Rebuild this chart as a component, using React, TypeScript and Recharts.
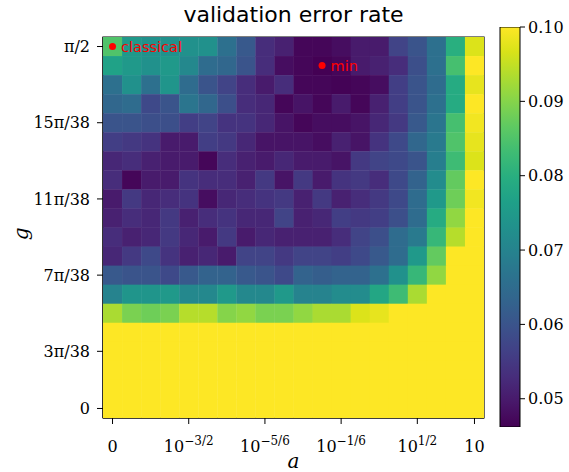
import React from 'react';
import {
  ScatterChart, Scatter, XAxis, YAxis, ReferenceArea, LabelList,
  BarChart, Bar,
} from 'recharts';

// x ticks: column index -> label (base, exponent)
const A_TICKS = [0, 4, 8, 12, 16, 19];
const A_TICK_LABELS = [
  { base: '0', exp: '' },
  { base: '10', exp: '\u22123/2' },
  { base: '10', exp: '\u22125/6' },
  { base: '10', exp: '\u22121/6' },
  { base: '10', exp: '1/2' },
  { base: '10', exp: '' },
];

// y ticks: row index -> label
const G_TICKS = [0, 3, 7, 11, 15, 19];
const G_TICK_LABELS = ['0', '3\u03c0/38', '7\u03c0/38', '11\u03c0/38', '15\u03c0/38', '\u03c0/2'];

const CB_TICKS = [0.05, 0.06, 0.07, 0.08, 0.09, 0.1];
const CB_MIN = 0.0462;
const CB_MAX = 0.1;

// validation error rate, rows listed from top (g = pi/2) to bottom (g = 0), columns a = 0 ... 10
const ERROR_RATE: number[][] = [
  [0.085, 0.075, 0.073, 0.073, 0.073, 0.073, 0.066, 0.061, 0.053, 0.051, 0.047, 0.047, 0.048, 0.050, 0.050, 0.057, 0.060, 0.066, 0.080, 0.097],
  [0.077, 0.075, 0.073, 0.075, 0.071, 0.065, 0.064, 0.060, 0.053, 0.048, 0.047, 0.0462, 0.047, 0.050, 0.051, 0.053, 0.059, 0.066, 0.084, 0.100],
  [0.066, 0.073, 0.066, 0.074, 0.065, 0.060, 0.057, 0.053, 0.050, 0.053, 0.047, 0.047, 0.0465, 0.047, 0.048, 0.056, 0.060, 0.065, 0.079, 0.098],
  [0.064, 0.065, 0.058, 0.060, 0.067, 0.064, 0.059, 0.053, 0.052, 0.047, 0.049, 0.047, 0.050, 0.047, 0.051, 0.056, 0.060, 0.066, 0.079, 0.100],
  [0.060, 0.060, 0.059, 0.059, 0.056, 0.057, 0.054, 0.054, 0.052, 0.049, 0.047, 0.048, 0.048, 0.049, 0.052, 0.055, 0.061, 0.067, 0.084, 0.099],
  [0.056, 0.055, 0.054, 0.050, 0.050, 0.056, 0.055, 0.052, 0.049, 0.049, 0.049, 0.048, 0.051, 0.049, 0.054, 0.058, 0.064, 0.068, 0.085, 0.098],
  [0.052, 0.053, 0.051, 0.050, 0.050, 0.047, 0.053, 0.051, 0.050, 0.052, 0.050, 0.050, 0.049, 0.055, 0.057, 0.058, 0.060, 0.069, 0.083, 0.097],
  [0.053, 0.047, 0.050, 0.050, 0.054, 0.053, 0.053, 0.051, 0.055, 0.049, 0.055, 0.050, 0.054, 0.055, 0.053, 0.058, 0.063, 0.072, 0.087, 0.100],
  [0.050, 0.055, 0.052, 0.053, 0.054, 0.048, 0.052, 0.053, 0.054, 0.055, 0.051, 0.055, 0.051, 0.053, 0.055, 0.058, 0.065, 0.075, 0.088, 0.099],
  [0.051, 0.053, 0.052, 0.055, 0.051, 0.053, 0.054, 0.052, 0.052, 0.057, 0.051, 0.052, 0.056, 0.055, 0.056, 0.059, 0.065, 0.079, 0.091, 0.100],
  [0.053, 0.051, 0.052, 0.055, 0.052, 0.050, 0.055, 0.050, 0.052, 0.051, 0.051, 0.051, 0.053, 0.057, 0.059, 0.065, 0.068, 0.082, 0.094, 0.100],
  [0.052, 0.055, 0.058, 0.054, 0.051, 0.052, 0.050, 0.057, 0.057, 0.055, 0.057, 0.057, 0.056, 0.058, 0.061, 0.065, 0.075, 0.087, 0.100, 0.100],
  [0.061, 0.060, 0.060, 0.058, 0.061, 0.063, 0.063, 0.061, 0.060, 0.058, 0.063, 0.062, 0.063, 0.063, 0.066, 0.073, 0.082, 0.091, 0.100, 0.100],
  [0.070, 0.074, 0.074, 0.075, 0.071, 0.071, 0.075, 0.071, 0.071, 0.075, 0.070, 0.070, 0.072, 0.072, 0.078, 0.083, 0.093, 0.100, 0.100, 0.100],
  [0.093, 0.089, 0.088, 0.089, 0.094, 0.094, 0.090, 0.091, 0.089, 0.089, 0.091, 0.093, 0.093, 0.097, 0.098, 0.100, 0.100, 0.100, 0.100, 0.100],
  [0.100, 0.100, 0.100, 0.100, 0.100, 0.100, 0.100, 0.100, 0.100, 0.100, 0.100, 0.100, 0.100, 0.100, 0.100, 0.100, 0.100, 0.100, 0.100, 0.100],
  [0.100, 0.100, 0.100, 0.100, 0.100, 0.100, 0.100, 0.100, 0.100, 0.100, 0.100, 0.100, 0.100, 0.100, 0.100, 0.100, 0.100, 0.100, 0.100, 0.100],
  [0.100, 0.100, 0.100, 0.100, 0.100, 0.100, 0.100, 0.100, 0.100, 0.100, 0.100, 0.100, 0.100, 0.100, 0.100, 0.100, 0.100, 0.100, 0.100, 0.100],
  [0.100, 0.100, 0.100, 0.100, 0.100, 0.100, 0.100, 0.100, 0.100, 0.100, 0.100, 0.100, 0.100, 0.100, 0.100, 0.100, 0.100, 0.100, 0.100, 0.100],
  [0.100, 0.100, 0.100, 0.100, 0.100, 0.100, 0.100, 0.100, 0.100, 0.100, 0.100, 0.100, 0.100, 0.100, 0.100, 0.100, 0.100, 0.100, 0.100, 0.100],
];

const MARKERS = [
  { x: 0, y: 19, label: 'classical' },
  { x: 11, y: 18, label: 'min' },
];

// viridis colormap stops
const VIRIDIS = [
  '#440154', '#48186a', '#472d7b', '#424086', '#3b528b', '#33638d', '#2c728e', '#26828e',
  '#21918c', '#1fa088', '#28ae80', '#3fbc73', '#5ec962', '#84d44b', '#addc30', '#d8e219', '#fde725',
];

const hex = (c: string) => [1, 3, 5].map((i) => parseInt(c.slice(i, i + 2), 16));

const viridis = (v: number) => {
  let t = (v - CB_MIN) / (CB_MAX - CB_MIN);
  t = Math.max(0, Math.min(1, t));
  const p = t * (VIRIDIS.length - 1);
  const i = Math.min(Math.floor(p), VIRIDIS.length - 2);
  const f = p - i;
  const a = hex(VIRIDIS[i]);
  const b = hex(VIRIDIS[i + 1]);
  const c = a.map((av, k) => Math.round(av + (b[k] - av) * f));
  return `rgb(${c[0]},${c[1]},${c[2]})`;
};

const W = 569;
const H = 472;
const MARGIN = { top: 37, right: 85, bottom: 14, left: 43 };
const Y_AXIS_W = 60;
const X_AXIS_H = 40;
const N = 20;
const CELL_W = (W - MARGIN.left - MARGIN.right - Y_AXIS_W) / N;
const CELL_H = (H - MARGIN.top - MARGIN.bottom - X_AXIS_H) / N;

const SERIF = '"DejaVu Serif", "Liberation Serif", serif';
const SANS = '"DejaVu Sans", Verdana, sans-serif';

const cells = ERROR_RATE.flatMap((row, r) =>
  row.map((v, c) => ({ x: c, y: N - 1 - r, v }))
);

const HeatCell = (props: any) => {
  const { cx, cy, payload } = props;
  if (cx == null || cy == null) return null;
  return (
    <rect
      x={cx - CELL_W / 2}
      y={cy - CELL_H / 2}
      width={CELL_W + 0.4}
      height={CELL_H + 0.4}
      fill={viridis(payload.v)}
      stroke="none"
    />
  );
};

const Dot = (props: any) => {
  const { cx, cy } = props;
  return <circle cx={cx} cy={cy} r={3.5} fill="#ff0000" />;
};

const XTick = (props: any) => {
  const { x, y, payload } = props;
  const lab = A_TICK_LABELS[A_TICKS.indexOf(payload.value)];
  if (!lab) return null;
  return (
    <text x={x} y={y + 26} textAnchor="middle" fontFamily={SERIF} fontSize={16} fill="#000">
      {lab.base}
      {lab.exp ? <tspan dy={-7} fontSize={12}>{lab.exp}</tspan> : null}
    </text>
  );
};

const ColorBar = () => (
  <BarChart
    width={79}
    height={H}
    data={[{ k: 'cb', range: [CB_MIN, CB_MAX] }]}
    margin={{ top: 27, right: 1, bottom: 45, left: 10 }}
    barCategoryGap={0}
  >
    <defs>
      <linearGradient id="cbGrad" x1="0" y1="1" x2="0" y2="0">
        {VIRIDIS.map((c, i) => (
          <stop key={i} offset={`${(i / (VIRIDIS.length - 1)) * 100}%`} stopColor={c} />
        ))}
      </linearGradient>
    </defs>
    <XAxis dataKey="k" hide />
    <YAxis
      orientation="right"
      type="number"
      domain={[CB_MIN, CB_MAX]}
      ticks={CB_TICKS}
      allowDataOverflow
      width={48}
      axisLine={false}
      tickLine={{ stroke: '#000' }}
      tickSize={5}
      tickMargin={3}
      tickFormatter={(v: number) => v.toFixed(2)}
      tick={{ fill: '#000', fontFamily: SERIF, fontSize: 16 }}
    />
    <Bar dataKey="range" fill="url(#cbGrad)" stroke="#000" strokeWidth={1} isAnimationActive={false} />
  </BarChart>
);

export default function App() {
  return (
    <div style={{ position: 'absolute', left: 0, top: 0, width: W, height: H, background: '#fff' }}>
      <div
        style={{
          position: 'absolute', left: MARGIN.left + Y_AXIS_W, top: 2,
          width: W - MARGIN.left - MARGIN.right - Y_AXIS_W, textAlign: 'center',
          fontFamily: SANS, fontSize: 22, lineHeight: '26px', color: '#000',
        }}
      >
        validation error rate
      </div>
      <div style={{ position: 'absolute', left: 0, top: 0 }}>
        <ScatterChart width={W} height={H} margin={MARGIN}>
          <XAxis
            type="number"
            dataKey="x"
            domain={[-0.5, N - 0.5]}
            ticks={A_TICKS}
            allowDataOverflow
            height={X_AXIS_H}
            axisLine={{ stroke: '#000' }}
            tickLine={{ stroke: '#000' }}
            tickSize={6}
            tick={<XTick />}
            label={{ value: 'a', position: 'bottom', offset: -4, fontFamily: SERIF, fontStyle: 'italic', fontSize: 20, fill: '#000' }}
          />
          <YAxis
            type="number"
            dataKey="y"
            domain={[-0.5, N - 0.5]}
            ticks={G_TICKS}
            allowDataOverflow
            width={Y_AXIS_W}
            axisLine={{ stroke: '#000' }}
            tickLine={{ stroke: '#000' }}
            tickSize={6}
            tickMargin={7}
            tickFormatter={(v: number) => G_TICK_LABELS[G_TICKS.indexOf(v)]}
            tick={{ fill: '#000', fontFamily: SERIF, fontSize: 16 }}
            label={{ value: 'g', angle: -90, position: 'left', offset: 22, fontFamily: SERIF, fontStyle: 'italic', fontSize: 20, fill: '#000' }}
          />
          <Scatter data={cells} shape={<HeatCell />} isAnimationActive={false} />
          <ReferenceArea x1={-0.5} x2={N - 0.5} y1={-0.5} y2={N - 0.5} fill="none" fillOpacity={0} stroke="#000" strokeWidth={1.2} />
          <Scatter data={MARKERS} shape={<Dot />} isAnimationActive={false}>
            <LabelList dataKey="label" position="right" offset={4} fill="#ff0000" fontFamily={SANS} fontSize={14.5} />
          </Scatter>
        </ScatterChart>
      </div>
      <div style={{ position: 'absolute', left: 490, top: 0 }}>
        <ColorBar />
      </div>
    </div>
  );
}
